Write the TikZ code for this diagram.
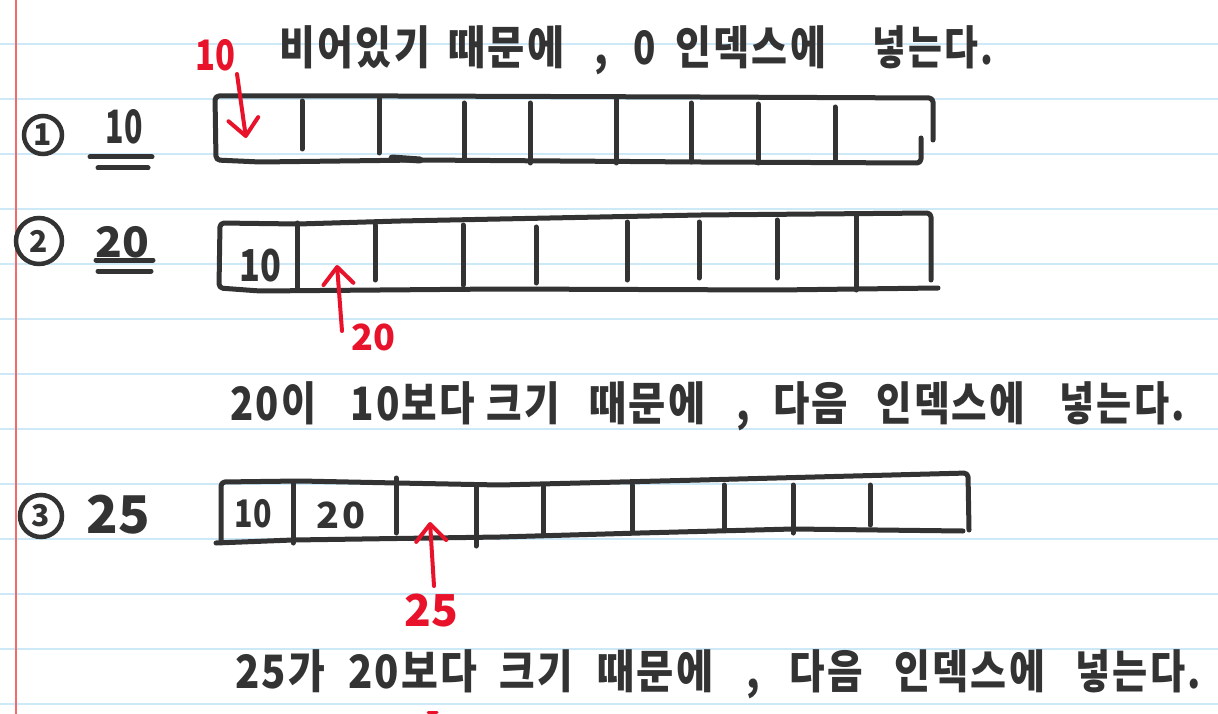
\documentclass[tikz,border=0pt]{standalone}
\usepackage{fontspec}
\usetikzlibrary{arrows.meta}
\newfontfamily\hand{Noto Sans CJK KR}
\newfontfamily\handw{Noto Sans CJK KR}[LetterSpace=6]
\definecolor{inkc}{HTML}{333333}
\definecolor{redc}{HTML}{E8132A}
\definecolor{rulec}{HTML}{CDE8F6}
\definecolor{marginc}{HTML}{F26B6B}
\newcommand\narrow[2]{\scalebox{#1}[1]{#2}}
\tikzset{
  ink/.style={draw=inkc, line width=5pt, line cap=round, line join=round},
  redarrow/.style={draw=redc, line width=4pt, line cap=round, line join=round,
     -{Straight Barb[length=17pt,width=30pt,line cap=round,line join=round]}},
  word/.style={font=\handw\bfseries\fontsize{46}{50}\selectfont, text=inkc, inner sep=0pt, anchor=base west},
  num/.style={text=inkc, inner sep=0pt},
  rednum/.style={text=redc, inner sep=0pt},
  stepcircle/.style={circle, draw=inkc, line width=4.5pt, inner sep=0pt, minimum size=40pt,
     font=\hand\bfseries\fontsize{30}{30}\selectfont, text=inkc}
}
\begin{document}
\begin{tikzpicture}[x=1pt,y=-1pt]
\useasboundingbox (0,0) rectangle (1218,714);
\fill[white] (0,0) rectangle (1218,714);
% ruled paper
\foreach \yy in {44,99,...,704} \draw[rulec, line width=1.3pt] (0,\yy) -- (1218,\yy);
\draw[marginc, line width=1.3pt] (16,0) -- (16,714);

% ---------- row 1 ----------
\node[stepcircle, minimum size=38pt] (c1) at (43,135) {1};
\node[num, font=\hand\bfseries\fontsize{46}{46}\selectfont] (n1) at (124,127) {\narrow{0.66}{10}};
\draw[ink] (90,157) -- (152,157);
\draw[ink] (98,168) -- (148,168);

\draw[ink, rounded corners=4pt] (933,140) -- (933,98) -- (700,97) -- (400,96) -- (215,96) -- (216,160)
   -- (260,162) -- (420,160) -- (700,162) -- (921,163) -- (921,138);
\draw[ink, line width=7pt] (392,158) -- (420,160);
\foreach \xx/\ya/\yb in {302/101/149, 379/97/153, 464/103/160, 530/103/163, 616/97/163, 691/103/162, 758/104/163, 835/107/162}
  \draw[ink] (\xx,\ya) -- (\xx,\yb);

\node[rednum, font=\hand\bfseries\fontsize{42}{42}\selectfont] (r1) at (215,55) {\narrow{0.78}{10}};
\coordinate (r1s) at (237,74);
\coordinate (r1e) at (246,138);
\draw[redarrow] (r1s) -- (r1e);

\foreach \xx/\ww/\ss [count=\i] in {279/비어있기/0.85, 448/때문에/0.88, 594/{,}/0.85, 633/0/0.8, 675/인덱스에/0.85, 872/넣는다./0.8}
  \node[word] (t1w\i) at (\xx,65) {\narrow{\ss}{\ww}};

% ---------- row 2 ----------
\node[stepcircle, minimum size=46pt] (c2) at (39,241) {2};
\node[num, font=\hand\bfseries\fontsize{42}{42}\selectfont] (n2) at (122,242) {\narrow{1.05}{20}};
\draw[ink] (96,260) -- (153,260);
\draw[ink] (98,271) -- (151,271);

\draw[ink, rounded corners=4pt] (931,280) -- (931,213) -- (700,215) -- (400,221) -- (298,224) -- (220,223)
   -- (219,288) -- (260,291) -- (500,289) -- (777,290) -- (938,288);
\foreach \xx/\ya/\yb in {297/223/288, 375/225/280, 463/225/285, 536/227/283, 627/222/280, 699/222/278, 777/220/278, 856/214/290}
  \draw[ink] (\xx,\ya) -- (\xx,\yb);
\node[num, font=\hand\bfseries\fontsize{44}{44}\selectfont] (v21) at (260,266) {\narrow{0.78}{10}};

\node[rednum, font=\hand\bfseries\fontsize{36}{36}\selectfont] (r2) at (373,337) {20};
\coordinate (r2s) at (342,331);
\coordinate (r2e) at (337,265);
\draw[redarrow] (r2s) -- (r2e);

\foreach \xx/\ww/\ss [count=\i] in {230/20이/0.83, 350/10보다/0.84, 486/크기/0.84, 589/때문에/0.88, 736/{,}/0.84, 773/다음/0.86, 876/인덱스에/0.84, 1059/넣는다./0.83}
  \node[word] (t2w\i) at (\xx,420) {\narrow{\ss}{\ww}};

% ---------- row 3 ----------
\node[stepcircle, minimum size=42pt] (c3) at (41,516) {3};
\node[num, font=\hand\bfseries\fontsize{52}{52}\selectfont] (n3) at (118,515) {25};

\draw[ink, rounded corners=4pt] (969,530) -- (968,473) -- (700,480) -- (500,485) -- (397,483) -- (300,481) -- (221,482)
   -- (221,541);
\draw[ink] (216,543) -- (293,540) -- (500,537) -- (640,533) -- (793,529) -- (963,531);
\foreach \xx/\ya/\yb in {293/483/543, 396/478/533, 476/485/546, 543/485/533, 632/485/532, 724/485/528, 793/485/533, 870/485/525}
  \draw[ink] (\xx,\ya) -- (\xx,\yb);
\node[num, font=\hand\bfseries\fontsize{38}{38}\selectfont] (v31) at (253,514) {\narrow{0.8}{10}};
\node[num, font=\handw\bfseries\fontsize{36}{36}\selectfont] (v32) at (341,515) {\narrow{1.05}{20}};

\node[rednum, font=\hand\bfseries\fontsize{44}{44}\selectfont] (r3) at (431,611) {25};
\coordinate (r3s) at (434,586);
\coordinate (r3e) at (430,522);
\draw[redarrow] (r3s) -- (r3e);

\foreach \xx/\ww/\ss [count=\i] in {235/25가/0.87, 348/20보다/0.87, 499/크기/0.84, 597/때문에/0.88, 746/{,}/0.84, 789/다음/0.84, 894/인덱스에/0.85, 1075/넣는다./0.83}
  \node[word] (t3w\i) at (\xx,688) {\narrow{\ss}{\ww}};

\coordinate (rm1) at (428,712);
\coordinate (rm2) at (437,712);
\draw[draw=redc, line width=3pt, line cap=round] (rm1) -- (rm2);
\end{tikzpicture}
\end{document}
